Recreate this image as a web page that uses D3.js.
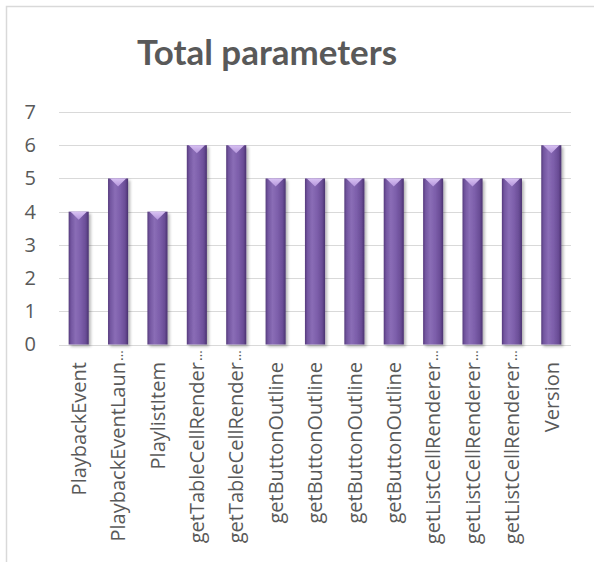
<!DOCTYPE html>
<html>
<head>
<meta charset="utf-8">
<script src="https://cdn.jsdelivr.net/npm/d3@7"></script>
<style>
  html, body { margin: 0; padding: 0; background: #ffffff; }
  svg { display: block; }
</style>
</head>
<body>
<svg id="chart" width="594" height="562"></svg>
<script>
// ---- data ----
const categories = [
  "PlaybackEvent", "PlaybackEventLaun…", "PlaylistItem",
  "getTableCellRender…", "getTableCellRender…",
  "getButtonOutline", "getButtonOutline", "getButtonOutline", "getButtonOutline",
  "getListCellRenderer…", "getListCellRenderer…", "getListCellRenderer…",
  "Version"
];
const values = [4, 5, 4, 6, 6, 5, 5, 5, 5, 5, 5, 5, 6];
const yTicks = [0, 1, 2, 3, 4, 5, 6, 7];
const chartTitle = "Total parameters";

// ---- layout ----
const svg = d3.select("#chart");
const W = 594, H = 562;
const plot = { left: 59, right: 571, top: 112, bottom: 344.5 };

const keys = categories.map((c, i) => i);
const x = d3.scaleBand()
  .domain(keys)
  .range([plot.left, plot.right])
  .paddingInner(0.49)
  .paddingOuter(0.245);
const y = d3.scaleLinear().domain([0, 7]).range([plot.bottom, plot.top]);

const defs = svg.append("defs");
const grad = defs.append("linearGradient")
  .attr("id", "barGrad").attr("x1", "0").attr("x2", "1").attr("y1", "0").attr("y2", "0");
[[0, "#553a7c"], [0.12, "#7356a0"], [0.35, "#8a6db6"], [0.6, "#7d5fab"], [0.85, "#6a4d96"], [1, "#4a3270"]]
  .forEach(([o, c]) => grad.append("stop").attr("offset", o).attr("stop-color", c));
const tgrad = defs.append("linearGradient")
  .attr("id", "topGrad").attr("x1", "0").attr("x2", "0").attr("y1", "0").attr("y2", "1");
[[0, "#d8c2f2"], [1, "#b596dc"]]
  .forEach(([o, c]) => tgrad.append("stop").attr("offset", o).attr("stop-color", c));
const shadow = defs.append("filter").attr("id", "shadow")
  .attr("x", "-50%").attr("y", "-10%").attr("width", "200%").attr("height", "130%");
shadow.append("feGaussianBlur").attr("in", "SourceAlpha").attr("stdDeviation", 1.6).attr("result", "b");
shadow.append("feOffset").attr("in", "b").attr("dx", 1.5).attr("dy", 1.5).attr("result", "o");
shadow.append("feComponentTransfer").attr("in", "o").attr("result", "s")
  .append("feFuncA").attr("type", "linear").attr("slope", 0.3);
const merge = shadow.append("feMerge");
merge.append("feMergeNode").attr("in", "s");
merge.append("feMergeNode").attr("in", "SourceGraphic");

// frame
svg.append("path")
  .attr("d", `M6.5,${H} L6.5,6.5 L${W},6.5`)
  .attr("fill", "none").attr("stroke", "#d9d9d9").attr("stroke-width", 1.5);

// title
svg.append("text")
  .attr("x", 267).attr("y", 65)
  .attr("text-anchor", "middle")
  .attr("font-family", "Lato, 'Open Sans', sans-serif")
  .attr("font-weight", "bold")
  .attr("font-size", 35)
  .attr("fill", "#595959")
  .attr("textLength", 260)
  .attr("lengthAdjust", "spacingAndGlyphs")
  .text(chartTitle);

// gridlines
svg.append("g").selectAll("line").data(yTicks).join("line")
  .attr("x1", plot.left).attr("x2", plot.right)
  .attr("y1", d => Math.round(y(d)) + 0.5).attr("y2", d => Math.round(y(d)) + 0.5)
  .attr("stroke", "#d9d9d9").attr("stroke-width", 1.2);

// y axis labels
const yAxis = d3.axisLeft(y).tickValues(yTicks).tickSize(0).tickPadding(0).tickFormat(d3.format("d"));
const gy = svg.append("g").attr("transform", `translate(36,0)`).call(yAxis);
gy.select(".domain").remove();
gy.selectAll("text")
  .attr("font-family", "'Open Sans', sans-serif")
  .attr("font-size", 20)
  .attr("fill", "#595959");

// bars
const bars = svg.append("g").selectAll("g.bar").data(values).join("g").attr("class", "bar");
bars.append("rect")
  .attr("x", (d, i) => x(i))
  .attr("y", d => y(d))
  .attr("width", x.bandwidth())
  .attr("height", d => y(0) - y(d))
  .attr("fill", "url(#barGrad)")
  .attr("filter", "url(#shadow)");
bars.append("path")
  .attr("d", (d, i) => {
    const x0 = x(i) + 2, x1 = x(i) + x.bandwidth() - 2, cx = x(i) + x.bandwidth() / 2, t = y(d);
    return `M${x0},${t} L${x1},${t} L${cx},${t + 8} Z`;
  })
  .attr("fill", "url(#topGrad)");

// x axis labels (rotated)
const xAxis = d3.axisBottom(x).tickSize(0).tickFormat(() => "");
const gx = svg.append("g").attr("transform", `translate(0,${plot.bottom})`).call(xAxis);
gx.select(".domain").remove();
const labelTop = 362;
const lab = svg.append("g").selectAll("g.lab").data(categories).join("g")
  .attr("class", "lab")
  .attr("transform", (d, i) => `translate(${x(i) + x.bandwidth() / 2},${labelTop}) rotate(-90)`);
lab.append("text")
  .attr("text-anchor", "end")
  .attr("dy", "0.36em")
  .attr("font-family", "'Open Sans', sans-serif")
  .attr("font-size", 20)
  .attr("fill", "#595959")
  .text(d => d.replace("…", ""));
lab.filter(d => d.endsWith("…")).append("text")
  .attr("x", 1)
  .attr("text-anchor", "start")
  .attr("dy", "0.36em")
  .attr("font-family", "'Open Sans', sans-serif")
  .attr("font-size", 14)
  .attr("fill", "#595959")
  .text("…");
</script>
</body>
</html>
